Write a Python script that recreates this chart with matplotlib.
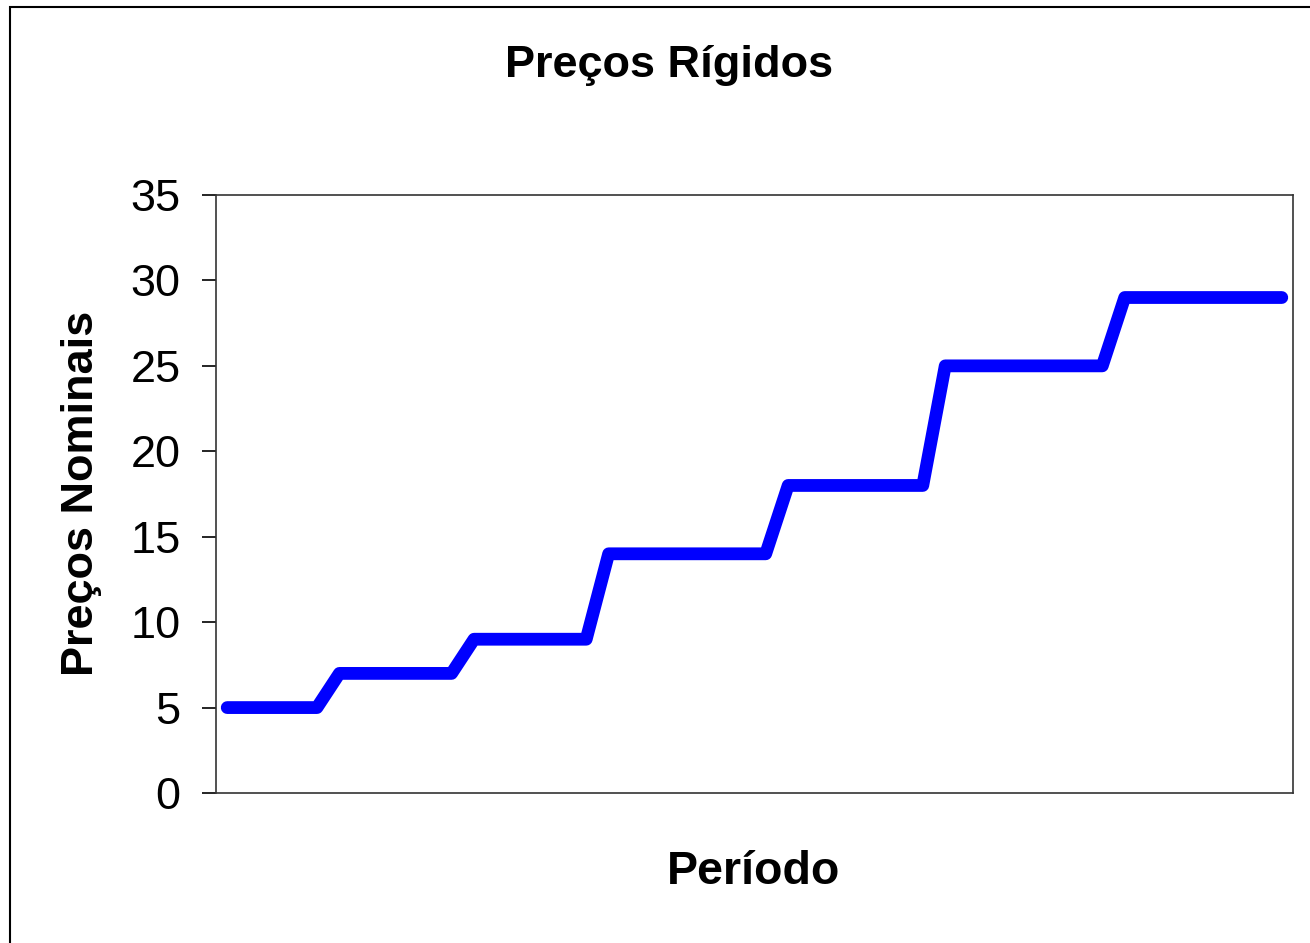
import numpy as np
import matplotlib
matplotlib.use('Agg')
import matplotlib.pyplot as plt
from matplotlib.patches import Rectangle

plt.rcParams['font.family'] = ['Liberation Sans', 'DejaVu Sans']

# nominal prices per period (48 periods)
precos = [5, 5, 5, 5, 5,
          7, 7, 7, 7, 7, 7,
          9, 9, 9, 9, 9, 9,
          14, 14, 14, 14, 14, 14, 14, 14,
          18, 18, 18, 18, 18, 18, 18,
          25, 25, 25, 25, 25, 25, 25, 25,
          29, 29, 29, 29, 29, 29, 29, 29]
periodos = np.arange(len(precos))
y_ticks = [0, 5, 10, 15, 20, 25, 30, 35]

W, H = 1310, 943
fig = plt.figure(figsize=(W / 100, H / 100), dpi=100)

# chart-area border (only left and top visible in the picture)
fig.patches.append(Rectangle((10 / W, -0.05), 1.2, 1 - 7 / H + 0.05,
                             transform=fig.transFigure, fill=False,
                             edgecolor='black', linewidth=1.5))

ax = fig.add_axes([216 / W, 1 - 793 / H, (1293 - 216) / W, (793 - 195) / H])
ax.plot(periodos, precos, color='#0000FF', linewidth=9.2,
        solid_capstyle='round', solid_joinstyle='round')

ax.set_xlim(-0.5, len(precos) - 0.5)
ax.set_ylim(0, 35)
ax.set_yticks(y_ticks)
ax.set_xticks([])
ax.tick_params(axis='y', labelsize=32.5, length=10, width=1.2, direction='out', pad=15.5)
for s in ax.spines.values():
    s.set_linewidth(1.2)
    s.set_color('#333333')

fig.text(669 / W, 1 - 65 / H, 'Preços Rígidos', fontsize=32.5, fontweight='bold',
         ha='center', va='center')
fig.text(754 / W, 1 - 872 / H, 'Período', fontsize=33.5, fontweight='bold',
         ha='center', va='center')
fig.text(82 / W, 1 - 493 / H, 'Preços Nominais', fontsize=32.5, fontweight='bold',
         ha='center', va='center', rotation=90)

fig.savefig('out.png', dpi=100)
